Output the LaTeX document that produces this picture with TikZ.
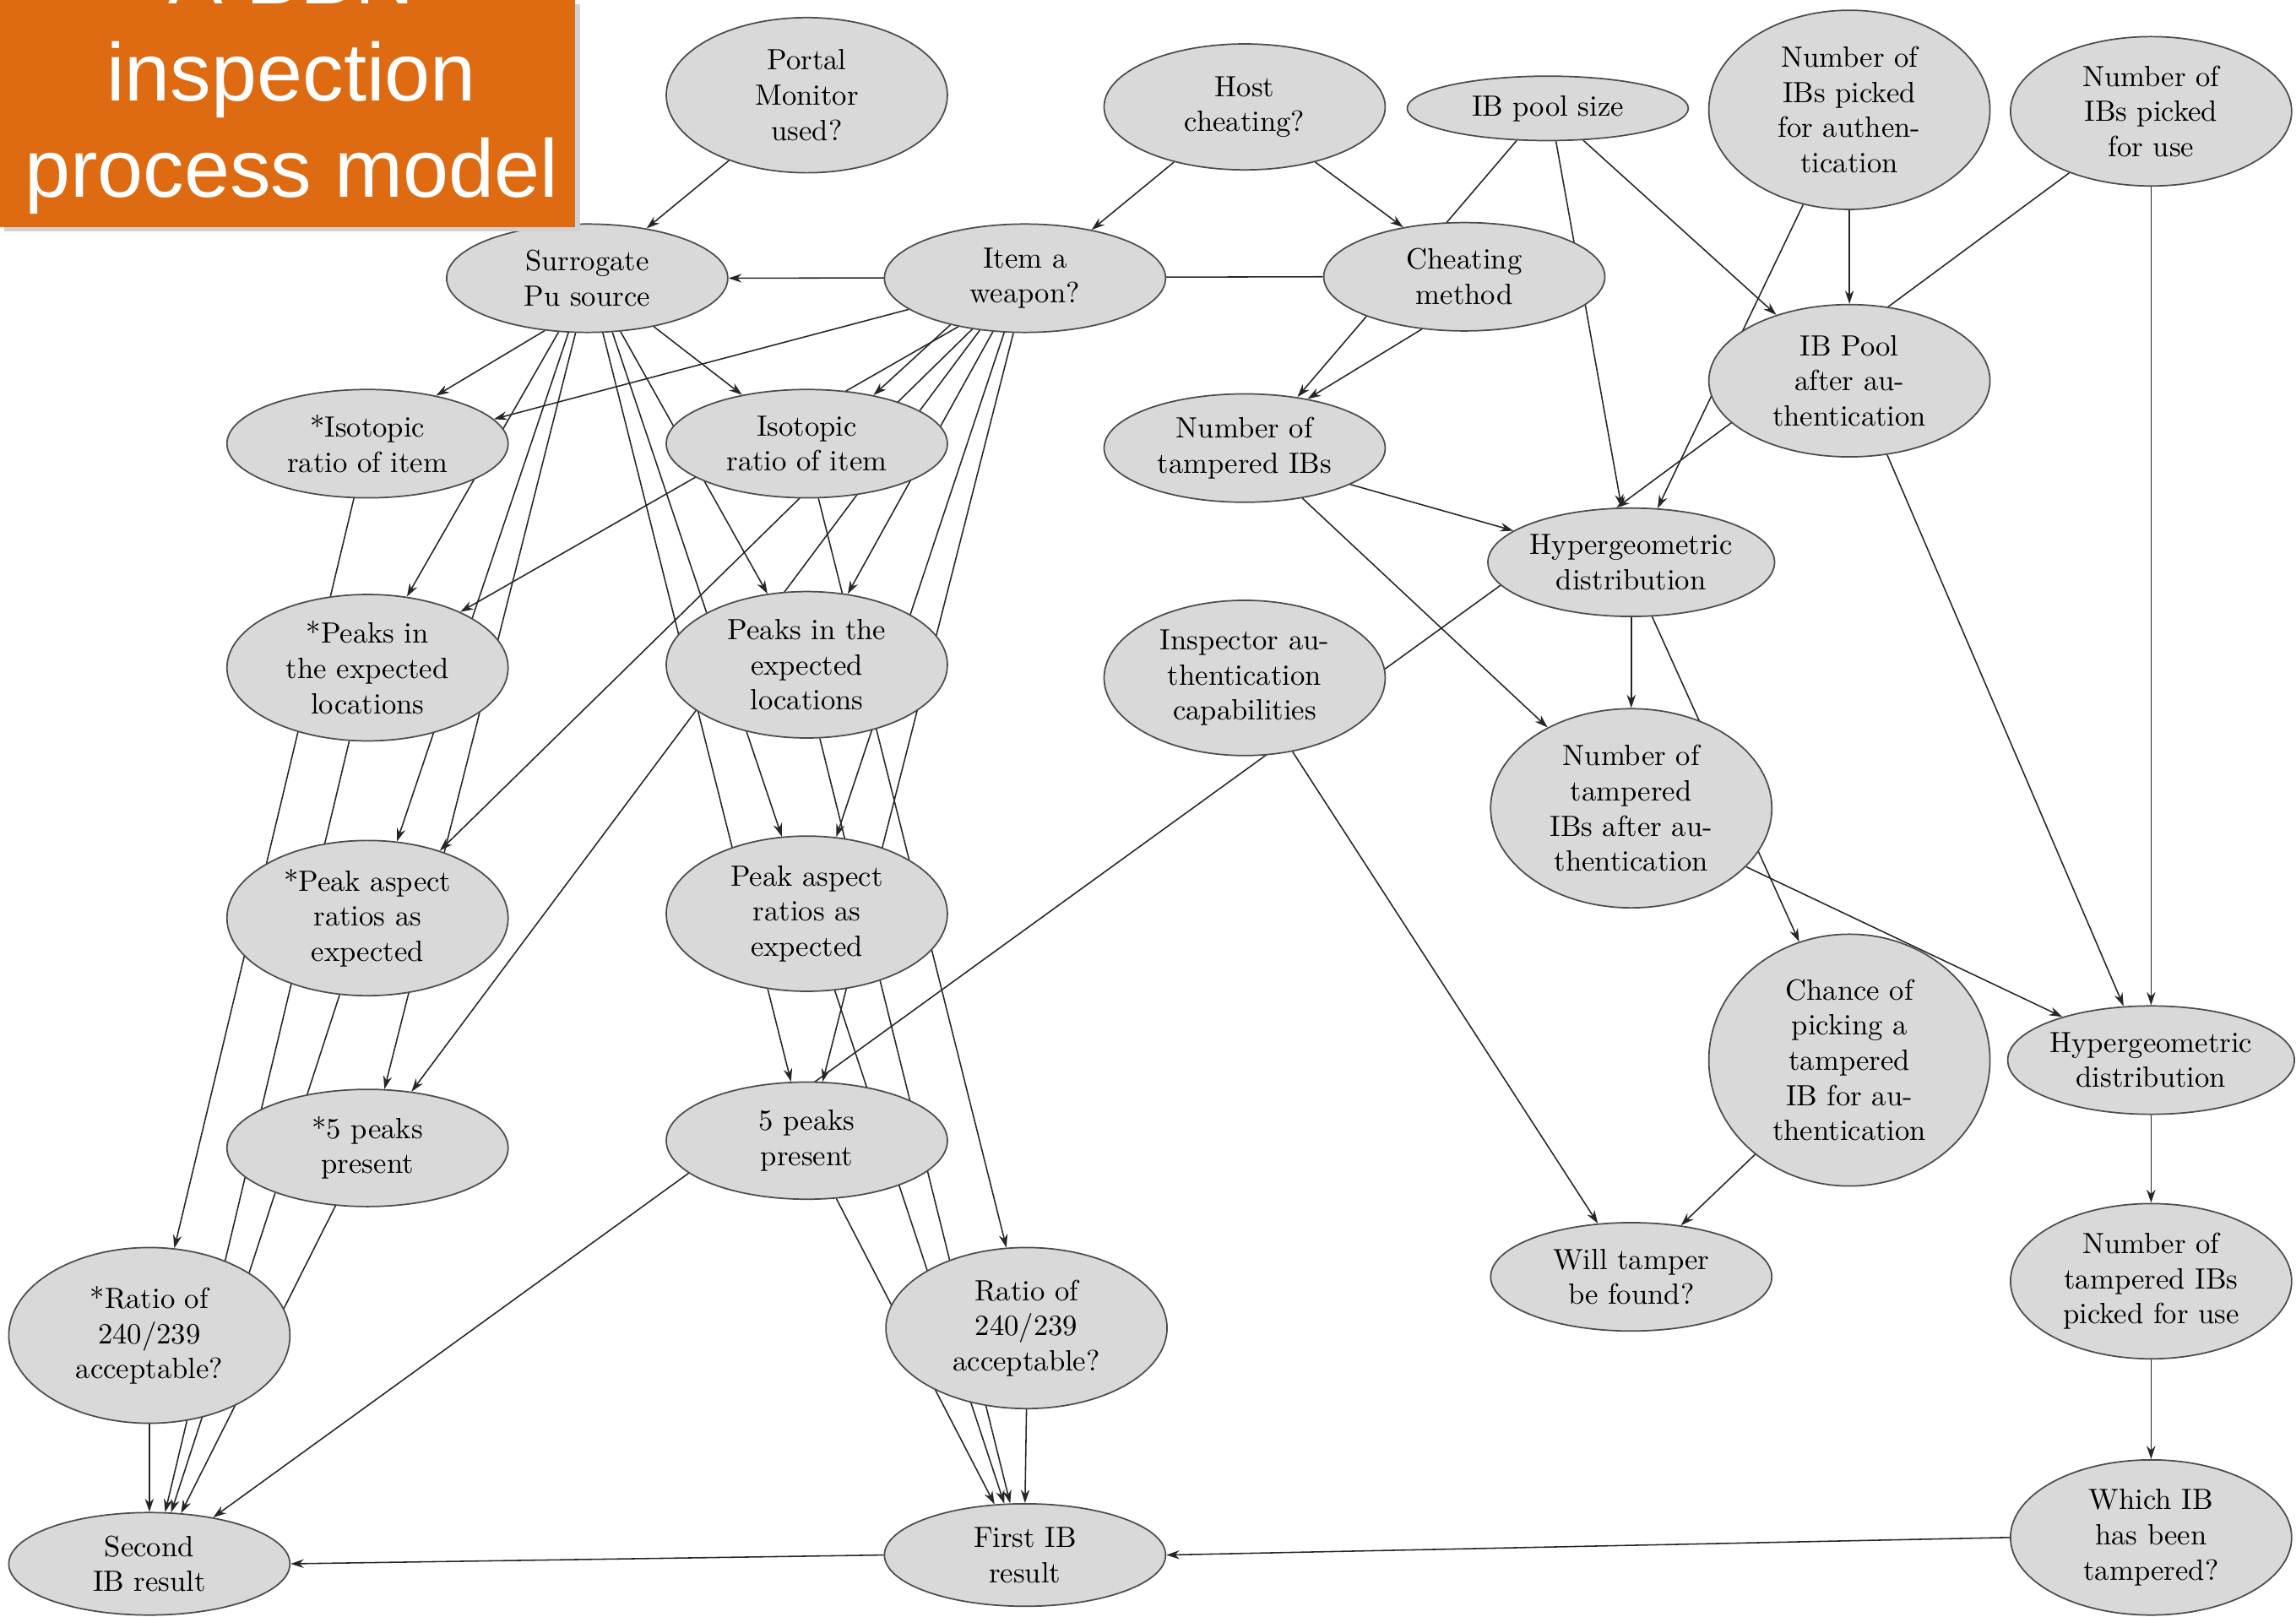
\documentclass[tikz,border=0pt]{standalone}
\usepackage{fontspec}
\newfontfamily\titlefont{Liberation Sans}
\usetikzlibrary{shapes.geometric,arrows.meta,backgrounds}
\definecolor{nodefill}{RGB}{217,217,217}
\definecolor{titleorange}{RGB}{222,106,18}
\begin{document}
\begin{tikzpicture}[x=0.5pt,y=-0.5pt,
  bn/.style={ellipse,draw=black!70,line width=0.5pt,fill=nodefill,inner sep=0pt,
    minimum width=96pt,align=center,font=\fontsize{10}{12}\selectfont},
  edge/.style={draw=black!85,line width=0.45pt,-{Stealth[length=4.5pt,width=3pt]}}]
\useasboundingbox (0,0) rectangle (1568,1104.3);

% nodes
\node[bn,minimum height=53pt] (portal) at (551,65) {Portal\\Monitor\\used?};
\node[bn,minimum height=43pt] (host) at (850,73) {Host\\cheating?};
\node[bn,minimum height=22pt] (pool) at (1057,74) {IB pool size};
\node[bn,minimum height=68pt] (nauth) at (1263,75) {Number of\\IBs picked\\for authen-\\tication};
\node[bn,minimum height=51pt] (nuse) at (1469,76) {Number of\\IBs picked\\for use};
\node[bn,minimum height=37pt] (surr) at (401,190) {Surrogate\\Pu source};
\node[bn,minimum height=37pt] (item) at (700,190) {Item a\\weapon?};
\node[bn,minimum height=37pt] (cheat) at (1000,189) {Cheating\\method};
\node[bn,minimum height=52pt] (poolafter) at (1263,260) {IB Pool\\after au-\\thentication};
\node[bn,minimum height=37pt] (siso) at (251,303) {*Isotopic\\ratio of item};
\node[bn,minimum height=37pt] (iso) at (551,303) {Isotopic\\ratio of item};
\node[bn,minimum height=37pt] (ntamp) at (850,306) {Number of\\tampered IBs};
\node[bn,minimum height=37pt] (hypa) at (1114,384) {Hypergeometric\\distribution};
\node[bn,minimum height=50pt] (speaks) at (251,456) {*Peaks in\\the expected\\locations};
\node[bn,minimum height=50pt] (peaks) at (551,454) {Peaks in the\\expected\\locations};
\node[bn,minimum height=53pt] (insp) at (850,463) {Inspector au-\\thentication\\capabilities};
\node[bn,minimum height=68pt] (ntampafter) at (1114,552) {Number of\\tampered\\IBs after au-\\thentication};
\node[bn,minimum height=53pt] (saspect) at (251,627) {*Peak aspect\\ratios as\\expected};
\node[bn,minimum height=53pt] (aspect) at (551,624) {Peak aspect\\ratios as\\expected};
\node[bn,minimum height=86pt] (chance) at (1263,724) {Chance of\\picking a\\tampered\\IB for au-\\thentication};
\node[bn,minimum height=37pt] (hypb) at (1469,724) {Hypergeometric\\distribution};
\node[bn,minimum height=40pt] (sfive) at (251,784) {*5 peaks\\present};
\node[bn,minimum height=40pt] (five) at (551,779) {5 peaks\\present};
\node[bn,minimum height=37pt] (will) at (1114,872) {Will tamper\\be found?};
\node[bn,minimum height=53pt] (ntampuse) at (1469,875) {Number of\\tampered IBs\\picked for use};
\node[bn,minimum height=60pt] (sratio) at (102,912) {*Ratio of\\240/239\\acceptable?};
\node[bn,minimum height=55pt] (ratio) at (701,907) {Ratio of\\240/239\\acceptable?};
\node[bn,minimum height=35pt] (second) at (102,1068) {Second\\IB result};
\node[bn,minimum height=35pt] (first) at (700,1062) {First IB\\result};
\node[bn,minimum height=53pt] (which) at (1469,1050) {Which IB\\has been\\tampered?};

% connectors (behind the nodes)
\begin{scope}[on background layer]
\draw[edge] (portal.220) -- (surr.40);
\draw[edge] (host.218) -- (item.36);
\draw[edge] (host.322) -- (cheat.141);
\draw[edge] (cheat.180) -- (surr.0);
\draw[edge] (pool.226) -- (ntamp.44);
\draw[edge] (cheat.231) -- (ntamp.38);
\draw[edge] (pool.284) -- (hypa.100);
\draw[edge] (pool.318) -- (poolafter.138);
\draw[edge] (nauth.south) -- (poolafter.north);
\draw[edge] (nauth.244) -- (hypa.64);
\draw[edge] (nuse.217) -- (hypa.105);
\draw[edge] (poolafter.297) -- (hypb.117);
\draw[edge] (nuse.south) -- (hypb.north);
\draw[edge] (ntamp.341) -- (hypa.165);
\draw[edge] (ntamp.319) -- (ntampafter.136);
\draw[edge] (hypa.south) -- (ntampafter.north);
\draw[edge] (hypa.190) -- (second.36);
\draw[edge] (hypa.291) -- (chance.113);
\draw[edge] (ntampafter.333) -- (hypb.154);
\draw[edge] (insp.303) -- (will.122);
\draw[edge] (chance.225) -- (will.46);
\draw[edge] (hypb.south) -- (ntampuse.north);
\draw[edge] (ntampuse.south) -- (which.north);
\draw[edge] (which.west) -- (first.east);
\draw[edge] (first.west) -- (second.east);
% surrogate fan
\draw[edge] (surr.231) -- (siso.35);
\draw[edge] (surr.324) -- (iso.143);
\draw[edge] (surr.242) -- (speaks.61);
\draw[edge] (surr.251) -- (saspect.69);
\draw[edge] (surr.258) -- (sfive.74);
\draw[edge] (surr.302) -- (peaks.119);
\draw[edge] (surr.295) -- (aspect.108);
\draw[edge] (surr.286) -- (five.105);
% item fan
\draw[edge] (item.195) -- (siso.11);
\draw[edge] (item.212) -- (iso.36);
\draw[edge] (item.216) -- (speaks.31);
\draw[edge] (item.224) -- (saspect.43);
\draw[edge] (item.229) -- (sfive.52);
\draw[edge] (item.239) -- (peaks.60);
\draw[edge] (item.249) -- (aspect.69);
\draw[edge] (item.258) -- (five.75);
% ratios and results
\draw[edge] (siso.256) -- (sratio.74);
\draw[edge] (iso.282) -- (ratio.104);
\draw[edge] (sratio.south) -- (second.north);
\draw[edge] (speaks.256) -- (second.73);
\draw[edge] (saspect.250) -- (second.67);
\draw[edge] (sfive.241) -- (second.58);
\draw[edge] (ratio.south) -- (first.north);
\draw[edge] (peaks.280) -- (first.106);
\draw[edge] (aspect.290) -- (first.112);
\draw[edge] (five.297) -- (first.121);
\end{scope}

% title box
\fill[black!18] (3,3) rectangle (396,158);
\begin{scope}
\clip (0,0) rectangle (393,155);
\fill[titleorange] (0,0) rectangle (393,155);
\node[text=white,inner sep=0pt,align=center,font=\titlefont\fontsize{28}{33}\selectfont] (title) at (199,55.4) {A BBN\\inspection\\process model};
\end{scope}
\end{tikzpicture}
\end{document}
